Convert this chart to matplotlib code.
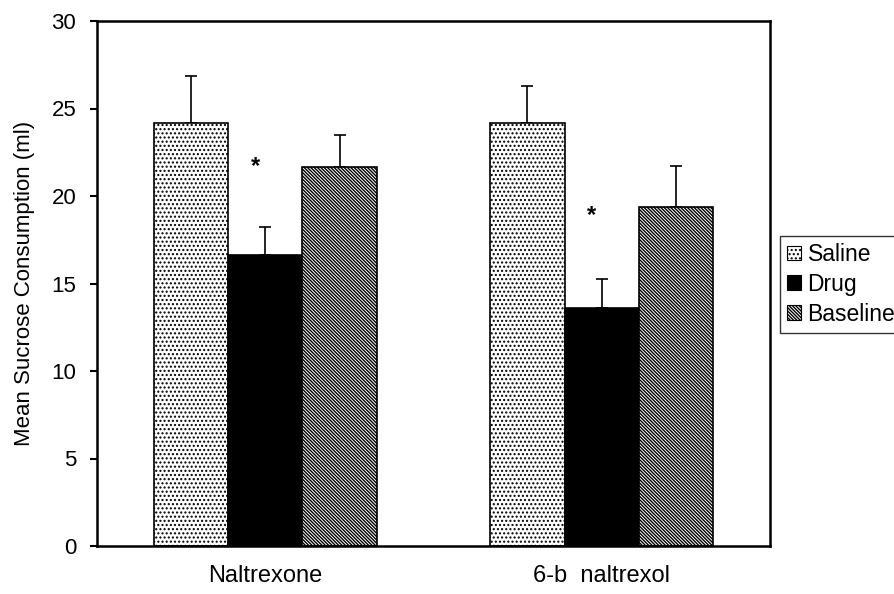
import matplotlib
matplotlib.use("Agg")
import matplotlib.pyplot as plt
import matplotlib.patches as mpatches
import numpy as np

plt.rcParams['font.family'] = ['Liberation Sans', 'DejaVu Sans']
plt.rcParams['hatch.linewidth'] = 1.0

groups = ["Naltrexone", "6-b  naltrexol"]
series = ["Saline", "Drug", "Baseline"]
saline = [24.15, 24.2]
saline_err = [2.7, 2.1]
drug = [16.65, 13.6]
drug_err = [1.6, 1.65]
baseline = [21.65, 19.4]
baseline_err = [1.85, 2.3]
star_y = [21.7, 18.9]
yticks = [0, 5, 10, 15, 20, 25, 30]

fig = plt.figure(figsize=(8.94, 5.94), dpi=100)
ax = fig.add_axes([97/894, 1-546/594, (770-97)/894, (546-21)/594])

x = np.arange(len(groups))
w = 0.221
styles = [
    dict(facecolor="white", hatch="...."),
    dict(facecolor="black", hatch=None),
    dict(facecolor="white", hatch="\\" * 10),
]
vals = [saline, drug, baseline]
errs = [saline_err, drug_err, baseline_err]
offs = [-w, 0, w]
handles = []
for v, e, o, st, name in zip(vals, errs, offs, styles, series):
    ax.bar(x + o, v, width=w, edgecolor="black", linewidth=1.2,
           facecolor=st["facecolor"], hatch=st["hatch"], zorder=2)
    ax.errorbar(x + o, v, yerr=[np.zeros(len(v)), e], fmt="none",
                ecolor="black", elinewidth=1.2, capsize=4.5, capthick=1.2, zorder=1)
    handles.append(mpatches.Patch(facecolor=st["facecolor"], hatch=st["hatch"],
                                  edgecolor="black", linewidth=0.8, label=name))

for xi, sy in zip(x, star_y):
    ax.text(xi - 0.03, sy, "*", ha="center", va="center", fontsize=17, fontweight="bold")

ax.set_xlim(-0.5, 1.5)
ax.set_ylim(0, 30)
ax.set_yticks(yticks)
ax.set_yticklabels([str(t) for t in yticks], fontsize=16)
ax.set_xticks(x)
ax.set_xticklabels(groups, fontsize=17)
ax.tick_params(axis="x", length=0, pad=14)
ax.tick_params(axis="y", length=5, width=1.5, pad=10, direction="out")
for s in ax.spines.values():
    s.set_linewidth(1.8)
ax.set_ylabel("Mean Sucrose Consumption (ml)", fontsize=16, labelpad=12)

leg = fig.legend(handles=handles, loc="upper left", bbox_to_anchor=(780/894, 1-236/594),
                 bbox_transform=fig.transFigure, borderaxespad=0, fontsize=16.5,
                 frameon=True, fancybox=False, edgecolor="black", handlelength=0.6,
                 handleheight=0.6, handletextpad=0.3, labelspacing=0.3, borderpad=0.3)
leg.get_frame().set_linewidth(1.0)

fig.savefig("out.png", dpi=100)
